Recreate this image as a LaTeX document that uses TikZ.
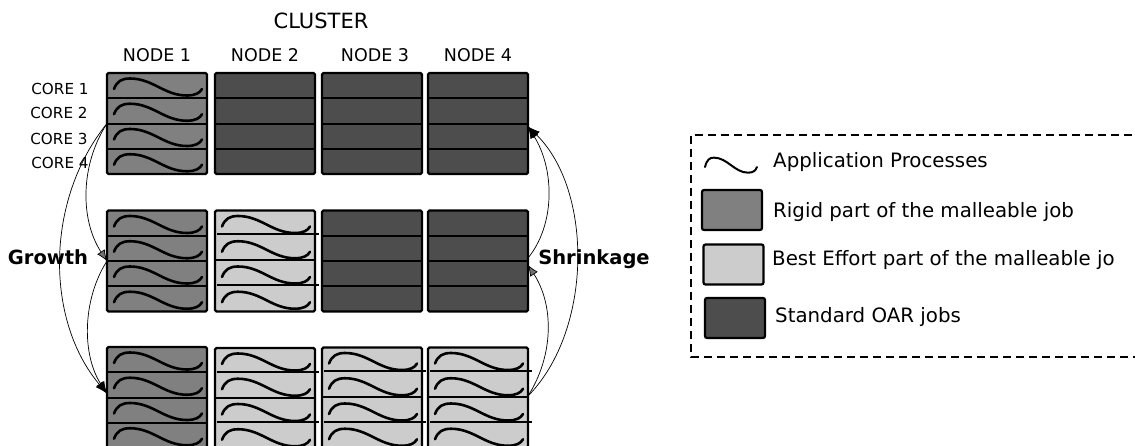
\documentclass[tikz,border=0pt]{standalone}
\usepackage{fontspec}
\setmainfont{DejaVu Sans}
\usetikzlibrary{arrows.meta}
\definecolor{rigidgray}{HTML}{808080}
\definecolor{bestgray}{HTML}{CCCCCC}
\definecolor{stdgray}{HTML}{4D4D4D}
\definecolor{arrgray}{HTML}{707070}
\tikzset{
  cellbox/.style={draw=black, line width=2.2pt, rounded corners=1.5pt, minimum width=100pt, minimum height=101pt, inner sep=0pt, outer sep=0pt},
  rigidbox/.style={cellbox, fill=rigidgray},
  bestbox/.style={cellbox, fill=bestgray},
  stdbox/.style={cellbox, fill=stdgray},
  coreline/.style={draw=black, line width=2pt},
  waveline/.style={draw=black, line width=2.6pt, line cap=round},
  wave/.pic={\draw[waveline] (7,16) .. controls (10,8) and (15,5.5) .. (23,5.5) .. controls (46,5.5) and (57,22.5) .. (80,22.5) .. controls (88,22.5) and (93,20) .. (95,16);},
  legwave/.pic={\draw[black, line width=2pt, line cap=round] (7,16) .. controls (10,8) and (15,6) .. (22,6) .. controls (45,6) and (57,22) .. (80,22) .. controls (88,22) and (93,20) .. (95,16);},
  curve/.style={draw=black, line width=0.7pt},
  blacktip/.style={-{Latex[length=12pt,width=9pt]}},
  graytip/.style={-{Latex[length=11pt,width=9pt,fill=arrgray]}},
  title/.style={font=\fontsize{21pt}{25pt}\selectfont, inner sep=0pt},
  nodelabel/.style={font=\fontsize{17.5pt}{21pt}\selectfont, inner sep=0pt},
  corelabel/.style={font=\fontsize{15.2pt}{18pt}\selectfont, inner sep=0pt},
  boldlabel/.style={font=\fontsize{19.5pt}{23pt}\selectfont\bfseries, inner sep=0pt},
  legtext/.style={font=\fontsize{19.8pt}{24pt}\selectfont, inner sep=0pt, anchor=west},
  swatch/.style={draw=black, line width=2.2pt, rounded corners=2pt, minimum width=60pt, minimum height=40pt, inner sep=0pt},
}
\begin{document}
\begin{tikzpicture}[x=1pt,y=-1pt]
\useasboundingbox (0,0) rectangle (1135,445);
% labels
\node[title] (cluster) at (321,20.5) {CLUSTER};
\node[nodelabel] (lab1) at (157,55) {NODE 1};
\node[nodelabel] (lab2) at (265,55) {NODE 2};
\node[nodelabel] (lab3) at (375,55) {NODE 3};
\node[nodelabel] (lab4) at (478,55) {NODE 4};
\node[corelabel] (c1) at (60,89) {CORE 1};
\node[corelabel] (c2) at (59,113) {CORE 2};
\node[corelabel] (c3) at (59,139) {CORE 3};
\node[corelabel] (c4) at (60,163) {CORE 4};
% row 1
\node[rigidbox] (r1n1) at (157,123.5) {};
\node[stdbox] (r1n2) at (265,123.5) {};
\node[stdbox] (r1n3) at (372,123.5) {};
\node[stdbox] (r1n4) at (478,123.5) {};
% row 2
\node[rigidbox] (r2n1) at (157,261) {};
\node[bestbox] (r2n2) at (265,261) {};
\node[stdbox] (r2n3) at (372,261) {};
\node[stdbox] (r2n4) at (478,261) {};
% row 3
\node[rigidbox] (r3n1) at (157,397.5) {};
\node[bestbox] (r3n2) at (265,398.5) {};
\node[bestbox] (r3n3) at (372,398) {};
\node[bestbox] (r3n4) at (478,398) {};
% core lines
\foreach \n in {r1n1,r1n2,r1n3,r1n4,r2n1,r2n3,r2n4,r3n1}
  \foreach \k in {1,2,3}
    \draw[coreline] (\n.north west) ++(0,25.25*\k) -- ++(100,0);
\foreach \n in {r2n2,r3n2,r3n3,r3n4}{
  \draw[coreline] (\n.north west) ++(2,23.5) -- ++(102,0);
  \draw[coreline] (\n.north west) ++(0,49.5) -- ++(100,0);
  \draw[coreline] (\n.north west) ++(2,74) -- ++(102,0);
}
% waves
\foreach \n in {r1n1,r2n1,r2n2,r3n1,r3n2,r3n3,r3n4}
  \foreach \k in {0,1,2,3}
    \path (\n.north west) ++(0,25.25*\k) pic {wave};
% growth / shrinkage arrows
\draw[curve,graytip] (r1n1.west) .. controls (80,165) and (80,220) .. (r2n1.west);
\draw[curve,blacktip] (r1n1.west) .. controls (45,200) and (45,320) .. ([yshift=4pt]r3n1.west);
\draw[curve,blacktip] (r2n1.west) .. controls (82,300) and (82,355) .. ([yshift=4pt]r3n1.west);
\draw[curve,graytip] ([yshift=2pt]r3n4.east) .. controls (554,355) and (554,305) .. ([yshift=-4pt]r2n4.east);
\draw[curve,blacktip] ([yshift=2pt]r3n4.east) .. controls (593,330) and (593,190) .. ([yshift=-3pt]r1n4.east);
\draw[curve,blacktip] ([yshift=3pt]r2n4.east) .. controls (555,225) and (555,170) .. ([yshift=-3pt]r1n4.east);
\node[boldlabel] (growth) at (48,257) {Growth};
\node[boldlabel] (shrink) at (594,259) {Shrinkage};
% legend
\draw[black, line width=1.6pt, dash pattern=on 8pt off 5pt] (1145,135) -- (691,135) -- (691,357) -- (1145,357);
\path (700.9,152) pic[xscale=0.59,yscale=0.94] {legwave};
\node[legtext] (lt1) at (773,162) {Application Processes};
\node[swatch, fill=rigidgray] (sw2) at (732,210) {};
\node[legtext] (lt2) at (773,212) {Rigid part of the malleable job};
\node[swatch, fill=bestgray] (sw3) at (733.5,264.5) {};
\node[legtext] (lt3) at (772,260) {Best Effort part of the malleable jo};
\node[swatch, fill=stdgray] (sw4) at (735,318) {};
\node[legtext] (lt4) at (775,317) {Standard OAR jobs};
\end{tikzpicture}
\end{document}
